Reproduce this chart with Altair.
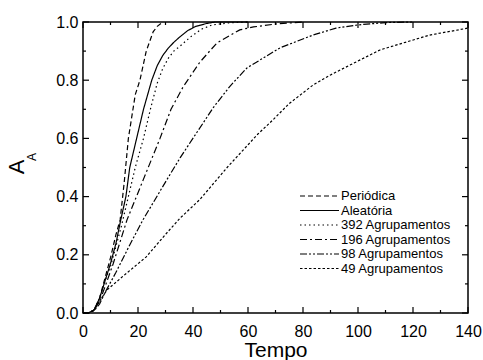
import altair as alt
import pandas as pd

series = ["Periódica", "Aleatória", "392 Agrupamentos", "196 Agrupamentos",
          "98 Agrupamentos", "49 Agrupamentos"]

per_t = [0, 2, 4, 6, 8, 10, 12, 13.5, 15, 16.5, 19, 20.7, 23, 25.5, 27, 29]
per_a = [0, 0, 0.01, 0.05, 0.12, 0.19, 0.27, 0.32, 0.45, 0.6, 0.75, 0.8, 0.9, 0.966, 0.985, 1.0]

ale_t = [0, 2, 4, 6, 8, 10, 12, 13.5, 15.6, 17, 19.5, 22, 25, 27, 29, 31, 33, 35, 38, 41, 45, 48, 60]
ale_a = [0, 0, 0.01, 0.05, 0.11, 0.17, 0.24, 0.31, 0.4, 0.5, 0.6, 0.7, 0.8, 0.85, 0.885, 0.91, 0.93, 0.947, 0.97, 0.985, 0.995, 1.0, 1.0]

g392_t = [0, 2, 4, 6, 8, 10, 12, 14, 16, 19, 22, 24.5, 27, 29, 31, 33, 35.3, 39, 43, 47, 53, 60]
g392_a = [0, 0, 0.01, 0.05, 0.11, 0.16, 0.23, 0.3, 0.38, 0.5, 0.6, 0.7, 0.79, 0.84, 0.875, 0.9, 0.917, 0.948, 0.975, 0.99, 0.997, 1.0]

g196_t = [0, 2, 4, 6, 8, 11, 16, 22, 28, 32, 36.4, 42.5, 48.7, 57, 62, 70, 80]
g196_a = [0, 0, 0.01, 0.04, 0.09, 0.17, 0.32, 0.46, 0.6, 0.7, 0.777, 0.862, 0.928, 0.973, 0.983, 0.993, 1.0]

g98_t = [0, 2, 4, 6, 8, 12, 17, 21.8, 30.3, 35.3, 41.5, 44.4, 47.3, 53.5, 59.6, 71.6, 83.6, 92, 100, 110, 120]
g98_a = [0, 0, 0.008, 0.03, 0.07, 0.14, 0.234, 0.32, 0.455, 0.533, 0.622, 0.663, 0.705, 0.78, 0.842, 0.911, 0.955, 0.979, 0.99, 0.998, 1.0]

g49_t = [0, 2, 4, 6, 8.7, 15, 23, 30, 35.3, 42.5, 52.4, 63.6, 69, 75, 83.6, 90, 93.5, 108, 126, 140]
g49_a = [0, 0, 0.01, 0.04, 0.079, 0.13, 0.193, 0.27, 0.326, 0.39, 0.5, 0.615, 0.663, 0.72, 0.783, 0.818, 0.835, 0.904, 0.955, 0.979]

dash_styles = [[5, 3], [1, 0], [1.5, 3], [7, 3, 2, 3], [7, 2, 2, 2, 2, 2], [2.5, 2]]

x_major = [0, 20, 40, 60, 80, 100, 120, 140]
x_minor = [10, 30, 50, 70, 90, 110, 130]
y_major = [0.0, 0.2, 0.4, 0.6, 0.8, 1.0]
y_minor = [0.1, 0.3, 0.5, 0.7, 0.9]

W, H = 385, 291

rows = []
for name, ts, As in zip(series, [per_t, ale_t, g392_t, g196_t, g98_t, g49_t],
                        [per_a, ale_a, g392_a, g196_a, g98_a, g49_a]):
    for t, a in zip(ts, As):
        rows.append({"t": t, "A": a, "serie": name})
df = pd.DataFrame(rows)

xs = alt.Scale(domain=[0, 140], nice=False, zero=False)
ys = alt.Scale(domain=[0, 1], nice=False, zero=False)

x_axis = alt.Axis(values=x_major, ticks=False, domain=False, grid=False,
                  labelFontSize=16, labelPadding=10, titleFontSize=21,
                  titleFontWeight="normal", titlePadding=0, labelFlush=False)
y_axis = alt.Axis(values=y_major, format=".1f", ticks=False, domain=False, grid=False,
                  labelFontSize=16, labelPadding=5, labelFlush=False)

lines = alt.Chart(df).mark_line(color="black", strokeWidth=1.2).encode(
    x=alt.X("t:Q", scale=xs, title="Tempo", axis=x_axis),
    y=alt.Y("A:Q", scale=ys, title=None, axis=y_axis),
    strokeDash=alt.StrokeDash("serie:N", sort=series,
                              scale=alt.Scale(domain=series, range=dash_styles),
                              legend=alt.Legend(title=None, orient="none", legendX=216, legendY=167,
                                                symbolType="stroke", symbolSize=1520,
                                                symbolStrokeColor="black", symbolStrokeWidth=1.2,
                                                labelFontSize=13, labelOffset=1, rowPadding=0.5,
                                                clipHeight=14, symbolOffset=0)),
    order=alt.Order("t:Q"),
)

xmaj = pd.DataFrame({"t": x_major})
xmin = pd.DataFrame({"t": x_minor})
ymaj = pd.DataFrame({"A": y_major})
ymin = pd.DataFrame({"A": y_minor})

def xt(d, y0, y1):
    return alt.Chart(d).mark_rule(color="black", strokeWidth=1.2).encode(
        x=alt.X("t:Q", scale=xs, title="Tempo", axis=x_axis), y=alt.value(y0), y2=alt.value(y1))

def yt(d, x0, x1):
    return alt.Chart(d).mark_rule(color="black", strokeWidth=1.2).encode(
        y=alt.Y("A:Q", scale=ys, title=None, axis=y_axis), x=alt.value(x0), x2=alt.value(x1))

ticks = [
    xt(xmaj, H, H - 6), xt(xmin, H, H - 3), xt(xmaj, 0, 6), xt(xmin, 0, 3),
    yt(ymaj, 0, 6), yt(ymin, 0, 3), yt(ymaj, W, W - 6), yt(ymin, W, W - 3),
]

lab = pd.DataFrame({"s": ["A"]})
big_a = alt.Chart(lab).mark_text(text="A", angle=270, fontSize=22, align="center",
                                 baseline="middle", color="black").encode(
    x=alt.value(-66), y=alt.value(145))
small_a = alt.Chart(lab).mark_text(text="A", angle=270, fontSize=12, align="center",
                                   baseline="middle", color="black").encode(
    x=alt.value(-51), y=alt.value(135))

chart = alt.layer(lines, *ticks, big_a, small_a).properties(
    width=W, height=H,
    autosize=alt.AutoSizeParams(type="none"),
    padding={"left": 83, "top": 22, "right": 15, "bottom": 47},
).configure(font="Liberation Sans").configure_view(
    stroke="black", strokeWidth=1.5
).configure_axis(labelColor="black", titleColor="black").configure_legend(
    labelColor="black")

chart.save("out.html", embed_options={"renderer": "svg", "actions": False})
